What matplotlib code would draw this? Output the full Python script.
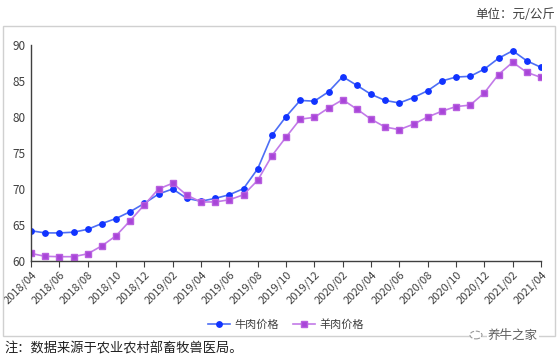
import matplotlib.pyplot as plt
from matplotlib.patches import Rectangle, Circle
import numpy as np

plt.rcParams['font.family'] = ['Noto Sans CJK SC', 'DejaVu Sans']

months = ['2018/04', '2018/05', '2018/06', '2018/07', '2018/08', '2018/09', '2018/10', '2018/11', '2018/12',
          '2019/01', '2019/02', '2019/03', '2019/04', '2019/05', '2019/06', '2019/07', '2019/08', '2019/09',
          '2019/10', '2019/11', '2019/12', '2020/01', '2020/02', '2020/03', '2020/04', '2020/05', '2020/06',
          '2020/07', '2020/08', '2020/09', '2020/10', '2020/11', '2020/12', '2021/01', '2021/02', '2021/03',
          '2021/04']
beef = [64.2, 63.9, 63.9, 64.0, 64.4, 65.2, 65.9, 66.85, 68.0,
        69.3, 70.0, 68.7, 68.3, 68.7, 69.2, 70.05, 72.8, 77.45,
        80.05, 82.3, 82.2, 83.5, 85.6, 84.4, 83.15, 82.3, 81.95,
        82.7, 83.65, 85.0, 85.55, 85.65, 86.65, 88.15, 89.2, 87.8,
        86.9]
mutton = [61.05, 60.65, 60.6, 60.6, 61.0, 62.1, 63.5, 65.6, 67.8,
          70.0, 70.8, 69.15, 68.2, 68.2, 68.5, 69.2, 71.2, 74.6,
          77.2, 79.7, 79.95, 81.25, 82.4, 81.1, 79.7, 78.6, 78.25,
          79.0, 80.0, 80.8, 81.45, 81.65, 83.35, 85.9, 87.6, 86.2,
          85.5]
yticks = [60, 65, 70, 75, 80, 85, 90]

W, H = 559, 361
fig = plt.figure(figsize=(W / 100, H / 100), dpi=100)

# outer frame
fig.patches.append(Rectangle((3 / W, 1 - 336 / H), 552 / W, 310 / H, transform=fig.transFigure,
                             fill=False, edgecolor='#d0d0d0', linewidth=1.0))

ax = fig.add_axes([31 / W, 1 - 261 / H, 510 / W, 216 / H])
x = np.arange(len(months))
ax.plot(x, beef, color='#4d6ef5', linewidth=1.2, marker='o', markersize=3.9,
        markerfacecolor='#1133ff', markeredgecolor='#1133ff', label='牛肉价格')
ax.plot(x, mutton, color='#c27ae8', linewidth=1.2, marker='s', markersize=3.7,
        markerfacecolor='#a845d8', markeredgecolor='#b860e0', label='羊肉价格')

ax.set_xlim(0, len(months) - 1)
ax.set_ylim(60, 90)
ax.set_yticks(yticks)
ax.set_xticks(x[::2])
ax.set_xticklabels(months[::2], rotation=45, ha='right', rotation_mode='anchor', fontsize=8, color='#404040')
ax.tick_params(axis='y', length=0, labelsize=8.5, labelcolor='#404040', pad=4)
ax.tick_params(axis='x', length=4, color='#404040', pad=2)
for s in ['top', 'right']:
    ax.spines[s].set_visible(False)
for s in ['left', 'bottom']:
    ax.spines[s].set_color('#404040')
    ax.spines[s].set_linewidth(1.0)

ax.legend(loc='upper center', bbox_to_anchor=(0.5, -0.22), ncol=2, frameon=False, fontsize=8,
          handlelength=2.0, handletextpad=0.4, columnspacing=1.2, labelcolor='#404040')

fig.text(555 / W, 1 - 14 / H, '单位：元/公斤', ha='right', va='center', fontsize=9, color='#404040')
fig.text(4 / W, 1 - 349 / H, '注：数据来源于农业农村部畜牧兽医局。', ha='left', va='center', fontsize=9.5,
         color='#202020')
fig.patches.append(Circle((476 / W, 1 - 335 / H), 6 / W, transform=fig.transFigure, fill=True,
                          facecolor='white', edgecolor='#999999', linewidth=0.8, linestyle='--'))
fig.text(488 / W, 1 - 335 / H, '养牛之家', ha='left', va='center', fontsize=9, color='#606060',
         bbox=dict(facecolor='white', edgecolor='none', pad=0.5))

fig.savefig('out.png', dpi=100)
